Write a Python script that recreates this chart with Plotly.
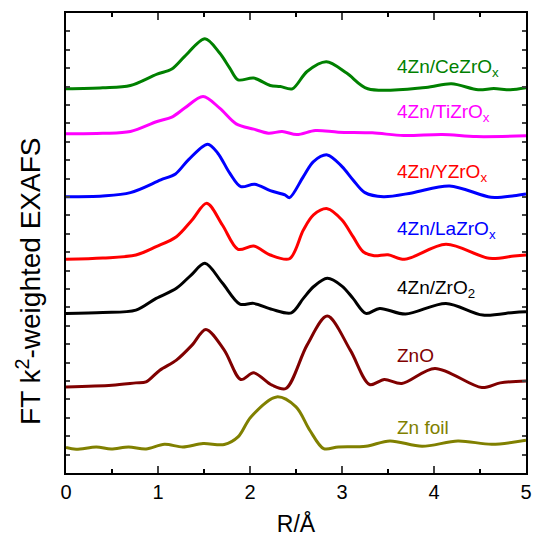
import plotly.graph_objects as go

# R (Å) sample positions and FT magnitudes (arbitrary units, already offset/stacked)
r_ce = [0, 0.4, 0.70, 0.99, 1.15, 1.29, 1.51, 1.67, 1.78, 1.87, 2.04, 2.22, 2.33, 2.46, 2.62, 2.83, 3.05, 3.28, 3.91, 4.19, 4.48, 4.65, 4.83, 5.0]
y_ce = [383.7, 384.7, 387, 398.4, 403.4, 416, 433.7, 419.4, 404.4, 392.7, 394.4, 387, 386, 383.7, 401, 410.7, 399.4, 383.7, 385, 388.7, 382.7, 384, 382.7, 384.7]

r_ti = [0, 0.4, 0.70, 0.99, 1.15, 1.29, 1.49, 1.67, 1.85, 2.04, 2.2, 2.35, 2.51, 2.71, 2.96, 3.33, 3.67, 4.09, 4.46, 5.0]
y_ti = [338.7, 339.2, 341, 351, 355.4, 364.4, 376, 364.4, 348.7, 343.4, 339.4, 341, 338, 342, 340.4, 339.7, 337, 338, 336, 336.7]

r_blue = [0, 0.4, 0.70, 1.03, 1.19, 1.33, 1.54, 1.65, 1.78, 1.9, 2.05, 2.22, 2.38, 2.43, 2.58, 2.69, 2.84, 3.0, 3.12, 3.25, 3.45, 3.76, 4.17, 4.62, 4.87, 5.0]
y_blue = [276, 276.7, 280, 292.7, 298.7, 312.7, 328.4, 319.4, 299.4, 286, 288.4, 282, 277.7, 275, 296, 311, 317.7, 306, 292.7, 280, 276, 279.7, 286.7, 275.4, 277, 278.7]

r_red = [0, 0.4, 0.76, 0.98, 1.2, 1.37, 1.53, 1.7, 1.87, 2.04, 2.22, 2.43, 2.58, 2.69, 2.84, 3.0, 3.12, 3.23, 3.35, 3.5, 3.68, 4.13, 4.6, 4.87, 5.0]
y_red = [213.4, 214.7, 217.7, 226, 236, 252.7, 269.4, 247.7, 223.4, 226.7, 217.7, 214, 242.7, 257.7, 264, 252.7, 236, 221, 217, 218, 213.4, 228.4, 214.4, 216.7, 217.7]

r_zro2 = [0, 0.4, 0.76, 0.98, 1.2, 1.36, 1.51, 1.7, 1.89, 2.04, 2.24, 2.45, 2.58, 2.69, 2.84, 3.0, 3.12, 3.26, 3.41, 3.69, 4.13, 4.53, 4.87, 5.0]
y_zro2 = [159.4, 160.2, 162.7, 174.4, 184.4, 197.7, 209.4, 189.7, 168.7, 169.4, 163.4, 160, 174.4, 186, 194.4, 186.7, 174.4, 159.4, 164.4, 158.7, 169.4, 157.7, 160.4, 161]

r_zno = [0, 0.5, 0.76, 0.87, 1.02, 1.2, 1.37, 1.52, 1.72, 1.9, 2.04, 2.24, 2.39, 2.62, 2.84, 3.09, 3.3, 3.46, 3.65, 4.01, 4.52, 4.72, 5.0]
y_zno = [86, 87.7, 90, 91, 102.7, 112.7, 127.7, 143.4, 122.7, 93.4, 100, 87.7, 84.4, 127.7, 156.7, 122.7, 88.4, 93.4, 89.4, 104.4, 85.4, 90, 92]

r_foil = [0, 0.11, 0.33, 0.49, 0.68, 0.87, 1.07, 1.27, 1.49, 1.72, 1.87, 2.01, 2.29, 2.5, 2.65, 2.8, 2.96, 3.26, 3.52, 3.87, 4.26, 4.63, 5.0]
y_foil = [25.4, 23.7, 26, 24, 26, 24, 28.7, 26, 29.4, 28.4, 36, 56, 76, 66, 42.7, 24.4, 26, 26.7, 32, 26.7, 32, 28.7, 32.7]

labels = ["4Zn/CeZrO<sub>x</sub>", "4Zn/TiZrO<sub>x</sub>", "4Zn/YZrO<sub>x</sub>",
          "4Zn/LaZrO<sub>x</sub>", "4Zn/ZrO<sub>2</sub>", "ZnO", "Zn foil"]
label_colors = ["#008000", "#FF00FF", "#FF0000", "#0000FF", "#000000", "#800000", "#808000"]
label_y = [404.7, 359.7, 299.7, 242.7, 183.7, 117.7, 45.7]

series = [
    (r_ce, y_ce, "#008000"),
    (r_ti, y_ti, "#FF00FF"),
    (r_blue, y_blue, "#0000FF"),
    (r_red, y_red, "#FF0000"),
    (r_zro2, y_zro2, "#000000"),
    (r_zno, y_zno, "#800000"),
    (r_foil, y_foil, "#808000"),
]

FONT = "Liberation Sans, Arial, sans-serif"
fig = go.Figure()
for r, y, c in series:
    fig.add_trace(go.Scatter(x=r, y=y, mode="lines",
                             line=dict(color=c, width=3, shape="spline", smoothing=0.9),
                             showlegend=False, hoverinfo="skip"))

for t, c, yy in zip(labels, label_colors, label_y):
    fig.add_annotation(x=3.58, y=yy, xref="x", yref="y", text=t, showarrow=False,
                       xanchor="left", yanchor="middle",
                       font=dict(family=FONT, size=19, color=c))

# y-axis title (placed as rotated text, it sits below the axis centre in the reference)
fig.add_annotation(x=-0.082, y=0.416, xref="paper", yref="paper",
                   text="FT k<sup>2</sup>-weighted EXAFS", textangle=-90, showarrow=False,
                   xanchor="center", yanchor="middle",
                   font=dict(family=FONT, size=28, color="black"))

YMAX = 459.4
fig.update_layout(
    width=533, height=544,
    margin=dict(l=66, r=7, t=13, b=71, autoexpand=False),
    plot_bgcolor="white", paper_bgcolor="white",
    font=dict(family=FONT, color="black"),
    xaxis=dict(range=[0, 5], dtick=1, tick0=0, ticks="inside", ticklen=7, tickwidth=1.5,
               showline=True, linecolor="black", linewidth=2, mirror="allticks",
               showgrid=False, zeroline=False, automargin=False,
               tickfont=dict(size=20, family=FONT, color="black"),
               minor=dict(ticks="inside", ticklen=4, dtick=0.5, tickwidth=1.5, tickcolor="black"),
               title=dict(text="R/Å", font=dict(size=23, family=FONT, color="black"), standoff=14)),
    yaxis=dict(range=[0, YMAX], dtick=YMAX / 25, tick0=0, ticks="inside", ticklen=4, tickwidth=1.5,
               showline=True, linecolor="black", linewidth=2, mirror="allticks",
               showgrid=False, zeroline=False, showticklabels=False, automargin=False),
)

fig.write_html("out.html")
